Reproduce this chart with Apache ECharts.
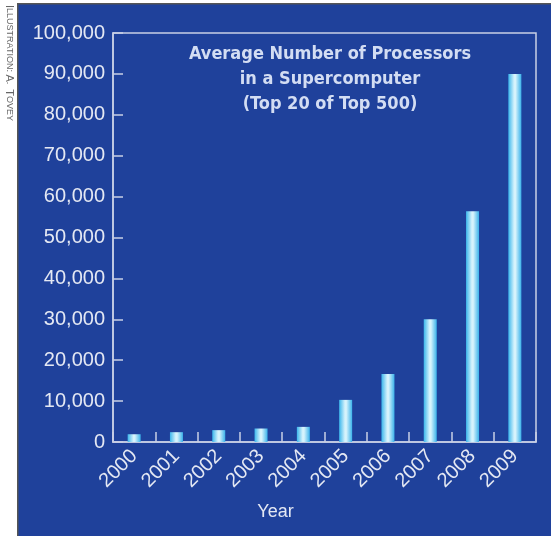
<!DOCTYPE html>
<html>
<head>
<meta charset="utf-8">
<script src="https://cdn.jsdelivr.net/npm/echarts@6/dist/echarts.min.js"></script>
<style>
html,body{margin:0;padding:0;background:#fff;}
#chart{width:551px;height:536px;}
</style>
</head>
<body>
<div id="chart"></div>
<script>
const years = ['2000','2001','2002','2003','2004','2005','2006','2007','2008','2009'];
const processors = [1900, 2400, 2900, 3300, 3700, 10300, 16600, 30000, 56400, 90000];
const yTicks = [0, 10000, 20000, 30000, 40000, 50000, 60000, 70000, 80000, 90000, 100000];
const titleLines = ['Average Number of Processors', 'in a Supercomputer', '(Top 20 of Top 500)'];
const xName = 'Year';

const chart = echarts.init(document.getElementById('chart'));
const axisColor = '#c9d0e6';
const textColor = '#e4e8f3';
const fmt = v => v.toLocaleString('en-US');

chart.setOption({
  backgroundColor: '#ffffff',
  animation: false,
  graphic: [
    { type: 'rect', left: 17, top: 3, shape: { width: 534, height: 533 },
      style: { fill: '#1f419b', stroke: '#555', lineWidth: 1.5 }, z: -10 },
    { type: 'text', x: 15, y: 5, rotation: -Math.PI / 2,
      style: {
        text: '{b|I}{s|LLUSTRATION: }{b|A}{s|.  }{b|T}{s|OVEY}',
        rich: {
          b: { fontSize: 11, fill: '#666', fontFamily: 'Liberation Sans' },
          s: { fontSize: 9, fill: '#666', fontFamily: 'Liberation Sans' }
        },
        fill: '#666'
      }
    },
    { type: 'text', left: 'center', top: 503,
      style: { text: xName, fill: textColor, fontSize: 18, fontFamily: 'Liberation Sans' } }
  ],
  title: {
    text: titleLines.join('\n'),
    left: 325, textAlign: 'center', top: 37,
    textStyle: { color: '#d3ddf3', fontFamily: '"DejaVu Sans Condensed", "Roboto Condensed", Roboto, sans-serif', fontWeight: 'bold', fontSize: 18, lineHeight: 25 }
  },
  grid: { left: 113, right: 15, top: 33, bottom: 94, show: true, borderColor: axisColor, borderWidth: 1.5, backgroundColor: 'transparent' },
  xAxis: {
    type: 'category', data: years, boundaryGap: true,
    axisLine: { lineStyle: { color: axisColor, width: 1.5 } },
    axisTick: { show: true, inside: true, length: 10, lineStyle: { color: axisColor, width: 1.5 } },
    axisLabel: { rotate: 45, color: textColor, fontSize: 20, fontFamily: 'Liberation Sans', margin: 11 }
  },
  yAxis: {
    type: 'value', min: yTicks[0], max: yTicks[yTicks.length - 1], interval: yTicks[1] - yTicks[0],
    splitLine: { show: false },
    axisLine: { show: true, lineStyle: { color: axisColor, width: 1.5 } },
    axisTick: { show: true, inside: true, length: 10, lineStyle: { color: axisColor, width: 1.5 } },
    axisLabel: { color: textColor, fontSize: 20, fontFamily: 'Liberation Sans', margin: 8, formatter: fmt }
  },
  series: [{
    type: 'bar', data: processors, barWidth: 13,
    itemStyle: {
      color: new echarts.graphic.LinearGradient(0, 0, 1, 0, [
        { offset: 0, color: '#3bb6ec' },
        { offset: 0.45, color: '#d6f3fc' },
        { offset: 0.55, color: '#d6f3fc' },
        { offset: 1, color: '#3ab2ea' }
      ])
    }
  }]
});
</script>
</body>
</html>
